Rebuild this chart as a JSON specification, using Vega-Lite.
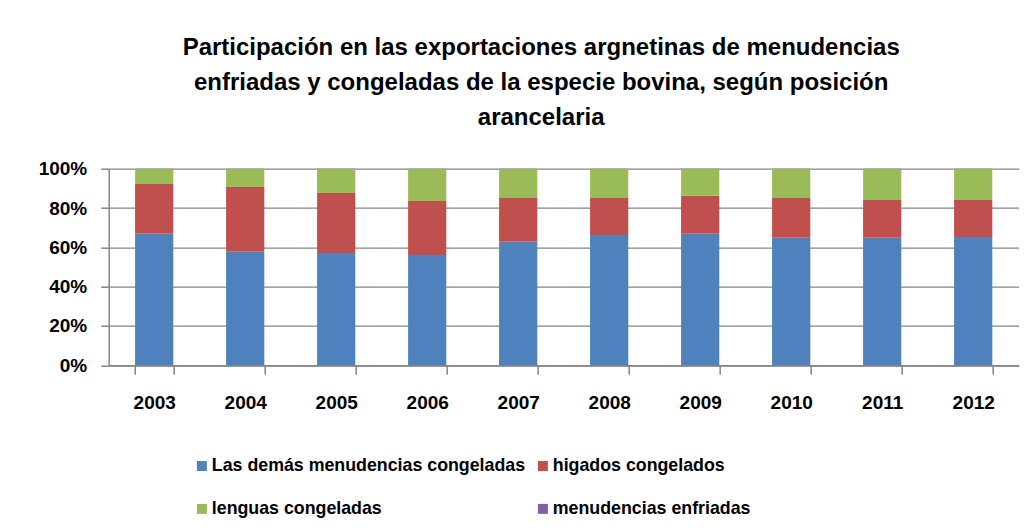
{
  "$schema": "https://vega.github.io/schema/vega-lite/v6.json",
  "width": 910,
  "height": 196.6,
  "autosize": {"type": "none"},
  "padding": {"left": 108.7, "top": 168.7, "right": 13, "bottom": 165.7},
  "background": "white",
  "title": {
    "text": ["Participación en las exportaciones argnetinas de menudencias", "enfriadas y congeladas de la especie bovina, según posición", "arancelaria"],
    "font": "Liberation Sans",
    "fontSize": 24,
    "fontWeight": "bold",
    "color": "#000000",
    "lineHeight": 35,
    "anchor": "middle",
    "frame": "group",
    "dx": -22.5,
    "offset": 30
  },
  "data": {
    "values": [
      {"anio": "2003", "posicion": "Las demás menudencias congeladas", "pct": 66.9},
      {"anio": "2003", "posicion": "higados congelados", "pct": 25.3},
      {"anio": "2003", "posicion": "lenguas congeladas", "pct": 7.6},
      {"anio": "2003", "posicion": "menudencias enfriadas", "pct": 0.2},
      {"anio": "2004", "posicion": "Las demás menudencias congeladas", "pct": 57.8},
      {"anio": "2004", "posicion": "higados congelados", "pct": 32.9},
      {"anio": "2004", "posicion": "lenguas congeladas", "pct": 9.1},
      {"anio": "2004", "posicion": "menudencias enfriadas", "pct": 0.2},
      {"anio": "2005", "posicion": "Las demás menudencias congeladas", "pct": 57.1},
      {"anio": "2005", "posicion": "higados congelados", "pct": 30.5},
      {"anio": "2005", "posicion": "lenguas congeladas", "pct": 12.2},
      {"anio": "2005", "posicion": "menudencias enfriadas", "pct": 0.2},
      {"anio": "2006", "posicion": "Las demás menudencias congeladas", "pct": 56.1},
      {"anio": "2006", "posicion": "higados congelados", "pct": 27.5},
      {"anio": "2006", "posicion": "lenguas congeladas", "pct": 16.2},
      {"anio": "2006", "posicion": "menudencias enfriadas", "pct": 0.2},
      {"anio": "2007", "posicion": "Las demás menudencias congeladas", "pct": 62.9},
      {"anio": "2007", "posicion": "higados congelados", "pct": 22.2},
      {"anio": "2007", "posicion": "lenguas congeladas", "pct": 14.7},
      {"anio": "2007", "posicion": "menudencias enfriadas", "pct": 0.2},
      {"anio": "2008", "posicion": "Las demás menudencias congeladas", "pct": 66.3},
      {"anio": "2008", "posicion": "higados congelados", "pct": 18.8},
      {"anio": "2008", "posicion": "lenguas congeladas", "pct": 14.7},
      {"anio": "2008", "posicion": "menudencias enfriadas", "pct": 0.2},
      {"anio": "2009", "posicion": "Las demás menudencias congeladas", "pct": 66.9},
      {"anio": "2009", "posicion": "higados congelados", "pct": 19.4},
      {"anio": "2009", "posicion": "lenguas congeladas", "pct": 13.5},
      {"anio": "2009", "posicion": "menudencias enfriadas", "pct": 0.2},
      {"anio": "2010", "posicion": "Las demás menudencias congeladas", "pct": 64.9},
      {"anio": "2010", "posicion": "higados congelados", "pct": 20.2},
      {"anio": "2010", "posicion": "lenguas congeladas", "pct": 14.7},
      {"anio": "2010", "posicion": "menudencias enfriadas", "pct": 0.2},
      {"anio": "2011", "posicion": "Las demás menudencias congeladas", "pct": 64.9},
      {"anio": "2011", "posicion": "higados congelados", "pct": 19.2},
      {"anio": "2011", "posicion": "lenguas congeladas", "pct": 15.7},
      {"anio": "2011", "posicion": "menudencias enfriadas", "pct": 0.2},
      {"anio": "2012", "posicion": "Las demás menudencias congeladas", "pct": 65.3},
      {"anio": "2012", "posicion": "higados congelados", "pct": 18.8},
      {"anio": "2012", "posicion": "lenguas congeladas", "pct": 15.7},
      {"anio": "2012", "posicion": "menudencias enfriadas", "pct": 0.2}
    ]
  },
  "mark": {"type": "bar"},
  "encoding": {
    "x": {
      "field": "anio",
      "type": "ordinal",
      "title": null,
      "scale": {"paddingInner": 0.58, "paddingOuter": 0.29},
      "axis": {
        "labelAngle": 0,
        "labelFont": "Liberation Sans",
        "labelFontSize": 19,
        "labelFontWeight": "bold",
        "labelColor": "#000000",
        "labelPadding": 19,
        "tickBand": "extent",
        "tickSize": 9,
        "tickColor": "#868686",
        "tickWidth": 1.5,
        "domainColor": "#868686",
        "domainWidth": 1.5,
        "grid": false
      }
    },
    "y": {
      "field": "pct",
      "type": "quantitative",
      "stack": "normalize",
      "title": null,
      "scale": {"domain": [0, 1]},
      "axis": {
        "format": ".0%",
        "values": [0, 0.2, 0.4, 0.6, 0.8, 1],
        "labelFont": "Liberation Sans",
        "labelFontSize": 19,
        "labelFontWeight": "bold",
        "labelColor": "#000000",
        "labelPadding": 14,
        "tickSize": 8,
        "tickColor": "#868686",
        "tickWidth": 1.5,
        "domainColor": "#868686",
        "domainWidth": 1.5,
        "grid": true,
        "gridColor": "#868686",
        "gridWidth": 1.2
      }
    },
    "color": {
      "field": "posicion",
      "type": "nominal",
      "sort": ["Las demás menudencias congeladas", "higados congelados", "lenguas congeladas", "menudencias enfriadas"],
      "scale": {
        "domain": ["Las demás menudencias congeladas", "higados congelados", "lenguas congeladas", "menudencias enfriadas"],
        "range": ["#4F81BD", "#C0504D", "#9BBB59", "#8064A2"]
      },
      "legend": {
        "title": null,
        "orient": "none",
        "legendX": 84.3,
        "legendY": 288.3,
        "direction": "horizontal",
        "columns": 2,
        "columnPadding": 8,
        "rowPadding": 24,
        "padding": 0,
        "symbolType": "square",
        "symbolSize": 100,
        "symbolStrokeWidth": 0,
        "labelOffset": 1,
        "labelFont": "Liberation Sans",
        "labelFontSize": 17.8,
        "labelFontWeight": "bold",
        "labelColor": "#000000",
        "labelLimit": 500
      }
    },
    "order": {"field": "posicion", "sort": "ascending"}
  },
  "config": {
    "view": {"stroke": null}
  }
}
